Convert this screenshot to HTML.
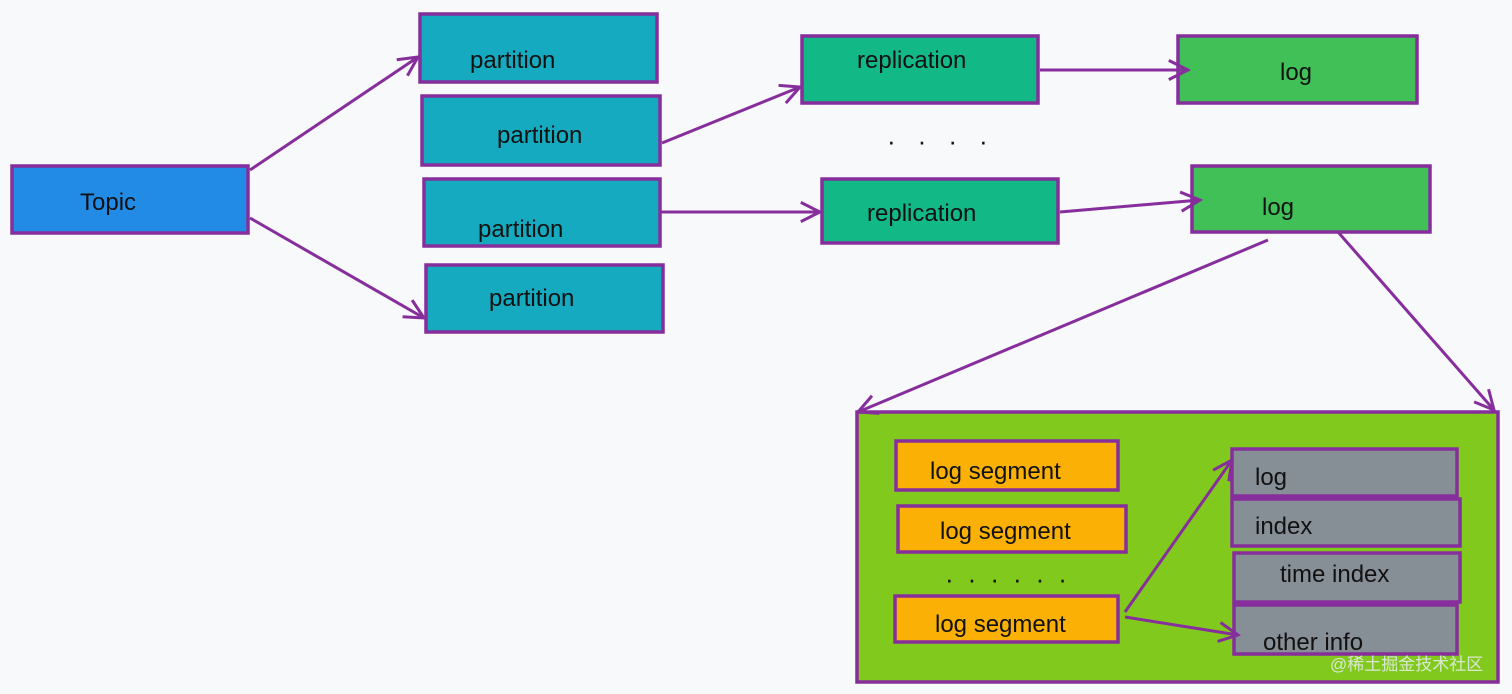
<!DOCTYPE html>
<html><head><meta charset="utf-8"><style>
html,body{margin:0;padding:0;background:#f8f9fb;}
svg{display:block}
text{font-family:"Liberation Sans","Noto Sans CJK SC",sans-serif;font-size:24px;fill:#111;}
</style></head><body>
<svg width="1512" height="694" viewBox="0 0 1512 694" xmlns="http://www.w3.org/2000/svg">
<defs>
<marker id="a" viewBox="0 0 20 20" refX="18" refY="10" markerWidth="24" markerHeight="24" markerUnits="userSpaceOnUse" orient="auto">
<path d="M2 2 L18 10 L2 18" fill="none" stroke="#862e9c" stroke-width="2.5"/>
</marker>
</defs>
<g stroke="#862e9c" stroke-width="3.5">
<rect x="12" y="166" width="236" height="67" fill="#228be6"/>
<rect x="420" y="14" width="237" height="68" fill="#15aabf"/>
<rect x="422" y="96" width="238" height="69" fill="#15aabf"/>
<rect x="424" y="179" width="236" height="67" fill="#15aabf"/>
<rect x="426" y="265" width="237" height="67" fill="#15aabf"/>
<rect x="802" y="36" width="236" height="67" fill="#12b886"/>
<rect x="822" y="179" width="236" height="64" fill="#12b886"/>
<rect x="1178" y="36" width="239" height="67" fill="#40c057"/>
<rect x="1192" y="166" width="238" height="66" fill="#40c057"/>
<rect x="857" y="412" width="641" height="270" fill="#82c91e"/>
<rect x="896" y="441" width="222" height="49" fill="#fab005"/>
<rect x="898" y="506" width="228" height="46" fill="#fab005"/>
<rect x="895" y="596" width="223" height="46" fill="#fab005"/>
<rect x="1232" y="449" width="225" height="47" fill="#868e96"/>
<rect x="1232" y="499" width="228" height="47" fill="#868e96"/>
<rect x="1234" y="553" width="226" height="49" fill="#868e96"/>
<rect x="1234" y="605" width="223" height="49" fill="#868e96"/>
</g>
<g stroke="#862e9c" stroke-width="3" fill="none" marker-end="url(#a)">
<line x1="250" y1="170" x2="418" y2="57"/>
<line x1="250" y1="218" x2="424" y2="318"/>
<line x1="662" y1="143" x2="800" y2="87"/>
<line x1="660" y1="212" x2="820" y2="212"/>
<line x1="1040" y1="70" x2="1188" y2="70"/>
<line x1="1060" y1="212" x2="1200" y2="200"/>
<line x1="1268" y1="240" x2="858" y2="412"/>
<line x1="1338" y1="232" x2="1494" y2="410"/>
<line x1="1125" y1="612" x2="1232" y2="460"/>
<line x1="1125" y1="617" x2="1238" y2="635"/>
</g>
<text x="470" y="68">partition</text>
<text x="497" y="143">partition</text>
<text x="478" y="237">partition</text>
<text x="489" y="306">partition</text>
<text x="80" y="210">Topic</text>
<text x="857" y="68">replication</text>
<text x="867" y="221">replication</text>
<text x="1280" y="80">log</text>
<text x="1262" y="215">log</text>
<text x="887" y="150" style="font-size:26px" letter-spacing="22">····</text>
<text x="930" y="479">log segment</text>
<text x="940" y="539">log segment</text>
<text x="935" y="632">log segment</text>
<text x="945" y="588" style="font-size:26px" letter-spacing="14">······</text>
<text x="1255" y="485">log</text>
<text x="1255" y="534">index</text>
<text x="1280" y="582">time index</text>
<text x="1263" y="650">other info</text>
<text x="1330" y="670" style="font-size:17px;fill:#e8eef0;opacity:0.85">@稀土掘金技术社区</text>
</svg>
</body></html>
